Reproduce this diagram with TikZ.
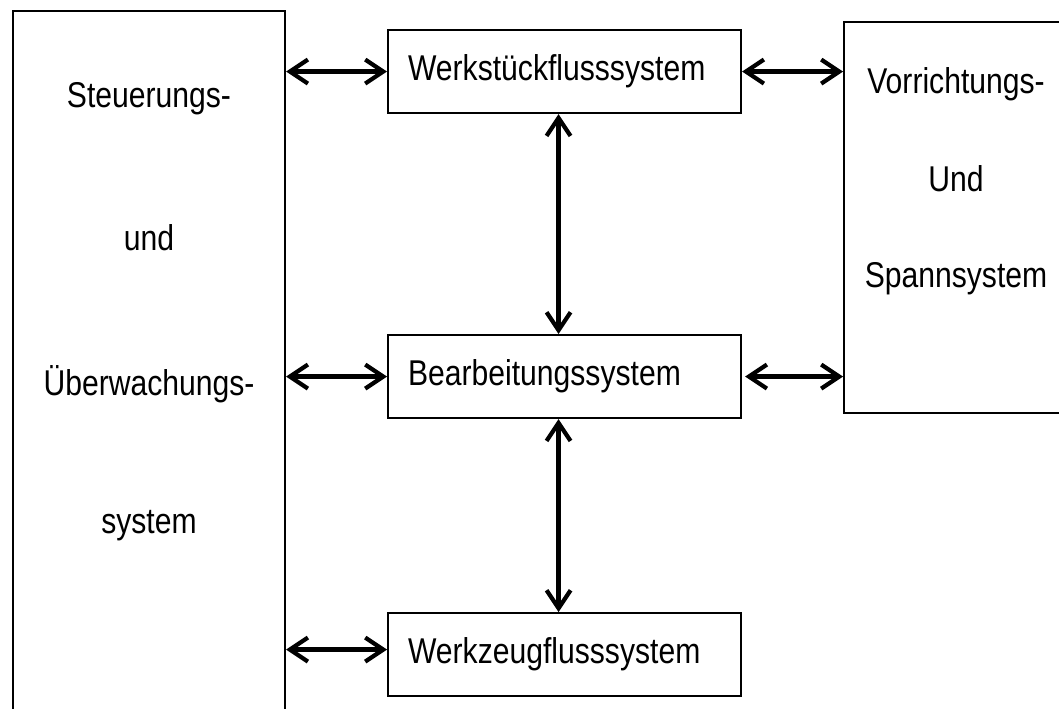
\documentclass[tikz,border=0pt]{standalone}
\usepackage{fontspec}
\setmainfont{Liberation Sans}[FakeStretch=0.84]
\usetikzlibrary{arrows.meta}

\begin{document}
\begin{tikzpicture}[x=0.1mm,y=-0.1mm,
  box/.style={draw,line width=0.6pt,inner sep=0pt,anchor=north west},
  sysbox/.style={box,minimum width=35.3mm,minimum height=8.3mm,text width=31.3mm,align=left,inner xsep=2mm,font=\fontsize{10.2pt}{12pt}\selectfont},
  lbl/.style={inner sep=0pt,anchor=base,font=\fontsize{10.2pt}{12pt}\selectfont},
  link/.style={line width=1.2pt,{Straight Barb[length=1.8mm,width=2.4mm]}-{Straight Barb[length=1.8mm,width=2.4mm]}}]
\useasboundingbox (0,0) rectangle (1059,708);
\clip (0,0) rectangle (1059,708);
% linker Block
\node[box,minimum width=27.2mm,minimum height=72mm] (ctrl) at (12,10) {};
\node[lbl] (ctrl1) at (149,107) {Steuerungs-};
\node[lbl] (ctrl2) at (149,250) {und};
\node[lbl] (ctrl3) at (149,395) {Überwachungs-};
\node[lbl] (ctrl4) at (149,533) {system};
% mittlere Spalte
\node[sysbox] (ws) at (387,29) {Werkstückflusssystem};
\node[sysbox] (bs) at (387,334) {Bearbeitungssystem};
\node[sysbox] (wz) at (387,612) {Werkzeugflusssystem};
% rechter Block
\node[box,minimum width=25mm,minimum height=39.1mm] (fix) at (843,21) {};
\node[lbl] (fix1) at (956,93) {Vorrichtungs-};
\node[lbl] (fix2) at (956,191) {Und};
\node[lbl] (fix3) at (956,287) {Spannsystem};
% Verbindungen links
\draw[link] (ctrl.east |- ws.west) -- (ws.west);
\draw[link] (ctrl.east |- bs.west) -- (bs.west);
\draw[link] ([yshift=0.5mm]ctrl.east |- wz.west) -- ([yshift=0.5mm]wz.west);
% Verbindungen rechts
\draw[link] (ws.east) -- (ws.east -| fix.west);
\draw[link] ([xshift=0.3mm]bs.east) -- (bs.east -| fix.west);
% senkrechte Verbindungen
\draw[link] ([xshift=-0.6mm]ws.south) -- ([xshift=-0.6mm]bs.north);
\draw[link] ([xshift=-0.6mm]bs.south) -- ([xshift=-0.6mm]wz.north);
\end{tikzpicture}
\end{document}
